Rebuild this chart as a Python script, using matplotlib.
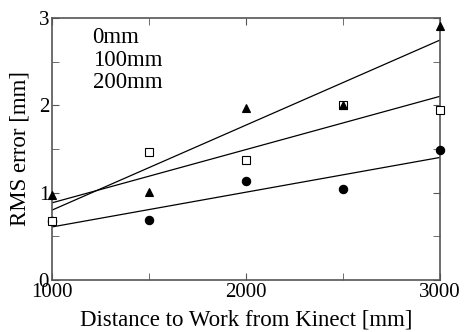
import numpy as np
import matplotlib
matplotlib.use("Agg")
import matplotlib.pyplot as plt

plt.rcParams['font.family'] = ['Liberation Serif', 'DejaVu Serif']

# distance to work [mm]
distance = [1000, 1500, 2000, 2500, 3000]
# RMS error [mm] for each height
err_0mm = [0.67, 0.69, 1.13, 1.04, 1.49]
err_100mm = [0.68, 1.47, 1.37, 2.00, 1.94]
err_200mm = [0.97, 1.01, 1.97, 2.00, 2.91]
labels = ["0mm", "100mm", "200mm"]

fig = plt.figure(figsize=(4.67, 3.32), dpi=100)
ax = fig.add_axes([0.111, 0.157, 0.831, 0.789])

x = np.array(distance)
xs = np.array([1000, 3000])
series = [(err_0mm, 'o', 'black'), (err_100mm, 's', 'white'), (err_200mm, '^', 'black')]
for ys, mk, fc in series:
    ax.plot(x, ys, linestyle='none', marker=mk, markersize=6,
            markerfacecolor=fc, markeredgecolor='black', markeredgewidth=0.8,
            clip_on=False, zorder=3)
    # linear fit
    k, b = np.polyfit(x, ys, 1)
    ax.plot(xs, k * xs + b, color='black', linewidth=0.9)

ax.set_xlim(1000, 3000)
ax.set_ylim(0, 3)
ax.set_xticks([1000, 2000, 3000])
ax.set_xticks([1500, 2500], minor=True)
ax.set_yticks([0, 1, 2, 3])
ax.set_yticks([0.5, 1.5, 2.5], minor=True)
ax.tick_params(which='both', direction='in', top=True, right=True,
               labelsize=15, color='#555555', pad=2, length=5)
for s in ax.spines.values():
    s.set_color('#555555')
    s.set_linewidth(1.2)

ax.set_xlabel("Distance to Work from Kinect [mm]", fontsize=16.5)
ax.set_ylabel("RMS error [mm]", fontsize=16.5)
ax.xaxis.set_label_coords(0.5, -0.112)
ax.yaxis.set_label_coords(-0.055, 0.5)

# legend text (no markers shown in reference)
for i, lab in enumerate(labels):
    ax.text(0.105, 0.925 - i * 0.086, lab, transform=ax.transAxes,
            fontsize=16.5, va='center', ha='left')

fig.savefig("out.png", dpi=100)
